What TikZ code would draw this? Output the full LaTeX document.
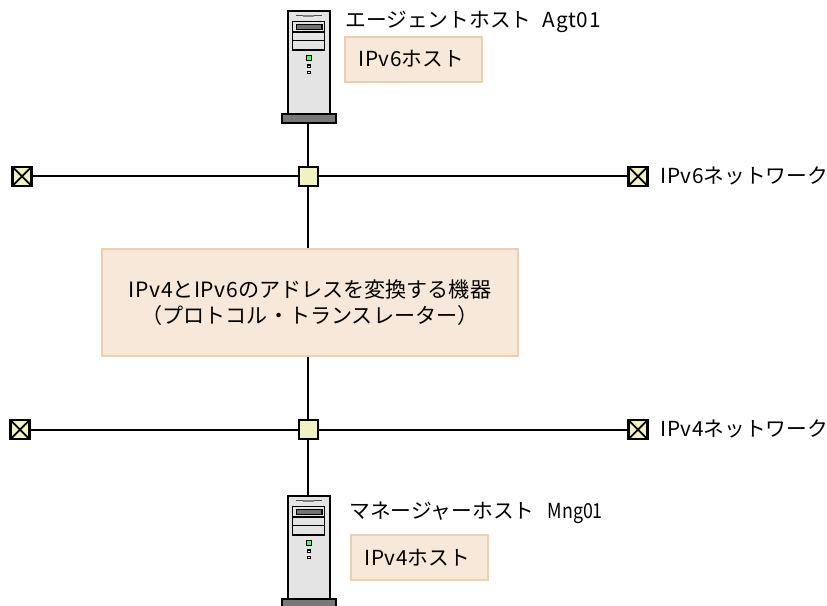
\documentclass[tikz,border=0pt]{standalone}
\usepackage{fontspec}
\setmainfont{Noto Sans CJK JP}
\newfontfamily\latinpart[LetterSpace=3]{Noto Sans CJK JP}
\newfontfamily\narrowpart[FakeStretch=0.86]{Noto Sans CJK JP}
\usepackage{xcolor}
\definecolor{hubfill}{HTML}{F3F1C3}
\definecolor{notefill}{HTML}{F8E8D9}
\definecolor{noteline}{HTML}{EBCFB2}
\definecolor{bodyfill}{HTML}{E4E4E4}
\definecolor{basefill}{HTML}{787878}
\definecolor{ledfill}{HTML}{66EE66}
\tikzset{
    label text/.style={font=\fontsize{11.8pt}{15pt}\selectfont, inner sep=0pt, anchor=west},
    note/.style={draw=noteline, fill=notefill, line width=1pt, minimum width=77.6pt, minimum height=25.5pt, inner sep=0pt},
    hub/.style={draw=black, fill=hubfill, line width=1.2pt, minimum size=10.8pt, inner sep=0pt},
    endbox/.style={hub, path picture={
        \draw[line width=1pt] (path picture bounding box.south west) -- (path picture bounding box.north east);
        \draw[line width=1pt] (path picture bounding box.north west) -- (path picture bounding box.south east);}},
    net/.style={line width=1.1pt},
    pics/server/.style={code={
        % Tower
        \node[draw=black, fill=bodyfill, line width=1.1pt, minimum width=23.6pt, minimum height=58.4pt, inner sep=0pt, anchor=north] (#1top) at (0,0) {};
        \node[draw=black, fill=basefill, line width=1pt, minimum width=30.6pt, minimum height=5pt, inner sep=0pt, anchor=north] (#1base) at (0,-103) {};
        % Front panel
        \draw[line width=0.6pt, black!70] (-12.5,-5.7) -- (13.2,-5.7);
        \draw[line width=1.2pt, black!50] (-5.5,-5.7) -- (5.5,-5.7);
        \draw[line width=0.7pt, fill=bodyfill] (-16,-11.7) rectangle (16,-40);
        \draw[line width=0.7pt] (-16,-22) -- (16,-22);
        \draw[line width=0.7pt] (-16,-30.7) -- (16,-30.7);
        \draw[line width=0.7pt, fill=black!55] (-12.5,-14.3) rectangle (13.2,-19.3);
        % Lamps
        \draw[line width=0.7pt, fill=ledfill] (-2.5,-45.3) rectangle (2.5,-50.7);
        \foreach \lampy in {-55,-61.3} {
            \draw[line width=0.6pt, fill=white] (-1.5,\lampy) rectangle (1.5,\lampy-2.5);
        }
    }}
}
\begin{document}
\begin{tikzpicture}[x=0.02cm,y=0.02cm]
    \clip (0,0) rectangle (827,605);
    \useasboundingbox (0,0) rectangle (827,605);

    % Hosts
    \pic at (308.8,595) {server=agt};
    \pic at (308.8,110) {server=mng};

    % Networks
    \foreach \name/\lx/\rx/\y in {v6/22/638/428.7, v4/20/638/175.3} {
        \node[endbox] (left\name) at (\lx,\y) {};
        \node[endbox] (right\name) at (\rx,\y) {};
        \node[hub] (hub\name) at (308.2,\y) {};
        \draw[net] (left\name) -- (hub\name);
        \draw[net] (hub\name) -- (right\name);
    }

    % Translator
    \node[note, minimum width=237pt, minimum height=60.6pt, align=center, font=\fontsize{12pt}{15.4pt}\selectfont] (trans) at (310,302.5)
        {{\latinpart IPv4}と{\latinpart IPv6}のアドレスを変換する機器\\[-0.4pt]（プロトコル・トランスレーター）};

    % Uplinks
    \draw[net] (hubv6 |- agtbase.south) -- (hubv6);
    \draw[net] (hubv6) -- (hubv6 |- trans.north);
    \draw[net] (hubv4 |- trans.south) -- (hubv4);
    \draw[net] (hubv4) -- (hubv4 |- mngtop.north);

    % Labels
    \node[label text] (agtname) at (345,583) {エージェントホスト\hspace{6.5pt}{\latinpart Agt01}};
    \node[note] (agtnote) at (413.5,545.5) {};
    \node[label text] (agtkind) at (358,546) {{\latinpart IPv6}ホスト};
    \node[label text] (mngname) at (349,92.5) {マネージャーホスト\hspace{7.5pt}{\narrowpart Mng01}};
    \node[note] (mngnote) at (419.5,47.5) {};
    \node[label text] (mngkind) at (364,47.5) {{\latinpart IPv4}ホスト};
    \node[label text] (netsix) at (660,429.5) {{\latinpart IPv6}ネットワーク};
    \node[label text] (netfour) at (660,176) {{\latinpart IPv4}ネットワーク};
\end{tikzpicture}
\end{document}
